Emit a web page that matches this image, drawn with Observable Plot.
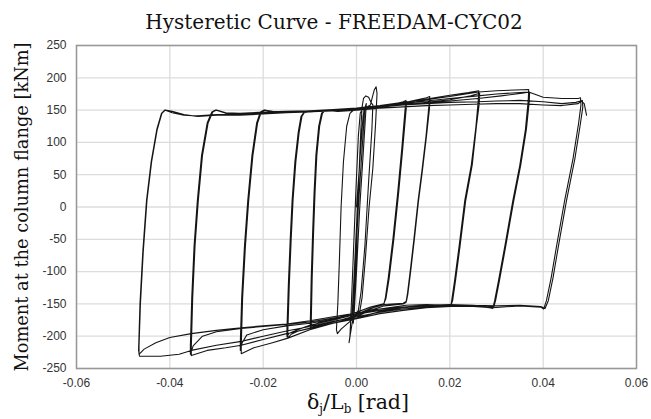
<!DOCTYPE html>
<html><head><meta charset="utf-8">
<script src="https://cdn.jsdelivr.net/npm/d3@7"></script>
<script src="https://cdn.jsdelivr.net/npm/@observablehq/plot@0.6"></script>
<style>
body{margin:0;background:#fff}
#chart{position:relative;width:651px;height:419px;overflow:hidden}
</style>
</head><body><div id="chart"></div>
<script>
const titleText = "Hysteretic Curve - FREEDAM-CYC02";
const yLabel = "Moment at the column flange [kNm]";
const xTicks = [-0.06, -0.04, -0.02, 0, 0.02, 0.04, 0.06];
const yTicks = [-250, -200, -150, -100, -50, 0, 50, 100, 150, 200, 250];

// [rotation δj/Lb (rad), moment (kNm)], in loading order
const loop0 = [[0,0],[0.0008,80],[0.0014,140],[0.0018,155],[0.0012,90],[0.0004,0],[-0.0003,-100],[-0.0008,-160],[-0.0010,-175],[-0.0004,-90],[0.0002,0],[0.0009,100],[0.0016,150],[0.0021,160],[0.0015,90],[0.0007,0],[0,-100],[-0.0005,-165],[-0.0007,-180],[-0.0001,-90],[0.0003,0]];
const loop1 = [[0.0007,80],[0.0010,130],[0.0012,155],[0.0015,168],[0.0020,172],[0.0026,170],[0.0031,162],[0.0035,158],
  [0.0033,120],[0.0026,40],[0.0018,-60],[0.0010,-130],[0.0004,-160],[-0.0003,-168],[-0.0009,-178],[-0.0012,-192],[-0.0016,-210],[-0.0014,-200],
  [-0.0011,-150],[-0.0006,-60],[-0.0001,30],[0.0004,110],[0.0008,145],[0.0013,152],[0.0022,155],[0.0030,158]];
const loop2 = [[0.0034,170],[0.0038,181],[0.0042,186],[0.0044,176],
  [0.0041,130],[0.0035,60],[0.0027,0],[0.0019,-80],[0.0012,-140],[0.0007,-162],[0.0002,-166],[-0.0010,-175],[-0.0022,-182],[-0.0033,-189],[-0.0041,-196],[-0.0043,-190],
  [-0.0040,-150],[-0.0037,-90],[-0.0033,0],[-0.0028,70],[-0.0021,125],[-0.0014,145],[-0.0008,149]];
const loop3 = [[0,151],[0.0030,153],[0.0060,156],[0.0085,160],[0.0100,163],[0.0106,165],
  [0.0104,150],[0.0097,90],[0.0088,20],[0.0078,-50],[0.0068,-110],[0.0062,-140],[0.0059,-150],[0.0052,-151],
  [0.0030,-158],[0,-168],[-0.0040,-176],[-0.0070,-181],[-0.0092,-185],[-0.0097,-188],
  [-0.0097,-180],[-0.0095,-110],[-0.0092,-40],[-0.0089,20],[-0.0085,80],[-0.0079,125],[-0.0073,145],[-0.0067,150],
  [-0.0040,148],[0,150],[0.0040,152],[0.0080,157],[0.0100,161],[0.0108,163],
  [0.0106,148],[0.0099,90],[0.0090,20],[0.0080,-50],[0.0070,-110],[0.0063,-142],[0.0058,-150],
  [0.0030,-155],[0,-163],[-0.0040,-171],[-0.0075,-178],[-0.0095,-183],[-0.0099,-186],
  [-0.0099,-178],[-0.0097,-110],[-0.0094,-40],[-0.0091,20],[-0.0087,80],[-0.0081,125],[-0.0075,145],[-0.0069,150]];
const loop4 = [[-0.004,149],[0,152],[0.005,156],[0.0106,162],[0.0130,166],[0.0150,169],[0.0157,171],
  [0.0155,155],[0.0149,110],[0.0140,55],[0.0132,10],[0.0123,-50],[0.0115,-100],[0.0109,-135],[0.0106,-148],[0.0100,-150],
  [0.0060,-153],[0.0030,-160],[0,-170],[-0.004,-178],[-0.0097,-187],[-0.0125,-192],[-0.0140,-197],[-0.0147,-203],
  [-0.0147,-190],[-0.0144,-120],[-0.0140,-50],[-0.0136,10],[-0.0130,70],[-0.0123,115],[-0.0117,140],[-0.0111,147],
  [-0.008,148],[-0.004,149],[0,151],[0.005,154],[0.0106,159],[0.0140,164],[0.0158,168],
  [0.0156,150],[0.0150,110],[0.0141,55],[0.0133,10],[0.0124,-50],[0.0116,-100],[0.0110,-135],[0.0107,-146],[0.0100,-149],
  [0.0060,-151],[0.0030,-157],[0,-166],[-0.005,-175],[-0.0100,-183],[-0.0130,-191],[-0.0145,-196],[-0.0149,-201],
  [-0.0149,-188],[-0.0146,-120],[-0.0142,-50],[-0.0138,10],[-0.0132,70],[-0.0125,115],[-0.0119,140],[-0.0113,146]];
const loop5 = [[-0.008,149],[-0.004,150],[0,153],[0.005,157],[0.010,161],[0.0157,168],[0.020,173],[0.024,177],[0.0262,180],
  [0.0261,165],[0.0256,125],[0.0246,65],[0.0232,10],[0.0220,-60],[0.0210,-115],[0.0204,-145],[0.0202,-153],[0.0195,-154],
  [0.015,-152],[0.0106,-155],[0.005,-162],[0,-172],[-0.005,-180],[-0.010,-190],[-0.0147,-203],[-0.018,-210],[-0.022,-218],[-0.0247,-227],
  [-0.0247,-215],[-0.0244,-140],[-0.0238,-60],[-0.0231,10],[-0.0222,80],[-0.0212,130],[-0.0204,147],[-0.0196,150],
  [-0.0180,147],[-0.015,146],[-0.010,148],[-0.005,150],[0,152],[0.005,155],[0.010,158],[0.015,162],[0.020,166],[0.0245,172],[0.0264,176],
  [0.0263,160],[0.0257,125],[0.0248,65],[0.0234,10],[0.0222,-60],[0.0212,-115],[0.0206,-145],[0.0203,-151],[0.0195,-152],
  [0.015,-151],[0.0106,-152],[0.005,-158],[0,-166],[-0.005,-174],[-0.010,-180],[-0.015,-184],[-0.020,-190],[-0.0235,-198],[-0.0245,-210],[-0.0249,-222],
  [-0.0249,-210],[-0.0246,-140],[-0.0240,-60],[-0.0233,10],[-0.0224,80],[-0.0214,130],[-0.0206,147],[-0.0198,150]];
const loop6 = [[-0.018,148],[-0.015,147],[-0.010,149],[-0.005,151],[0,153],[0.005,157],[0.010,162],[0.015,166],[0.020,171],[0.0262,178],[0.030,180],[0.034,181],[0.0369,182],
  [0.0368,165],[0.0362,120],[0.0350,65],[0.0335,10],[0.0318,-60],[0.0304,-115],[0.0296,-145],[0.0292,-157],[0.0285,-156],
  [0.025,-153],[0.0202,-154],[0.015,-156],[0.010,-160],[0.005,-165],[0,-173],[-0.005,-180],[-0.010,-188],[-0.015,-196],[-0.020,-205],[-0.0247,-214],[-0.028,-218],[-0.032,-222],[-0.0354,-230],
  [-0.0354,-218],[-0.0351,-140],[-0.0346,-60],[-0.0339,10],[-0.0330,80],[-0.0318,130],[-0.0308,147],[-0.0300,150],
  [-0.028,146],[-0.025,145],[-0.020,147],[-0.015,148],[-0.010,149],[-0.005,151],[0,153],[0.005,155],[0.010,158],[0.015,161],[0.020,164],[0.026,168],[0.031,172],[0.0355,176],[0.0371,178],
  [0.0370,162],[0.0364,120],[0.0352,65],[0.0337,10],[0.0320,-60],[0.0306,-115],[0.0298,-145],[0.0294,-155],[0.0285,-154],
  [0.025,-152],[0.020,-152],[0.015,-153],[0.010,-156],[0.005,-160],[0,-166],[-0.005,-172],[-0.010,-178],[-0.015,-182],[-0.020,-185],[-0.0247,-188],[-0.030,-193],[-0.033,-200],[-0.0350,-215],[-0.0356,-228],
  [-0.0356,-215],[-0.0353,-140],[-0.0348,-60],[-0.0341,10],[-0.0332,80],[-0.0320,130],[-0.0310,147],[-0.0302,150]];
const loop7 = [[-0.028,145],[-0.025,144],[-0.020,146],[-0.015,147],[-0.010,149],[-0.005,151],[0,153],[0.005,156],[0.010,160],[0.015,164],[0.020,168],[0.026,172],[0.030,175],[0.0369,178],[0.040,170],[0.044,168],[0.0475,168],[0.0480,169],
  [0.0481,158],[0.0476,130],[0.0464,75],[0.0446,10],[0.0430,-55],[0.0417,-110],[0.0407,-145],[0.0401,-158],[0.0395,-155],
  [0.035,-153],[0.0292,-156],[0.025,-154],[0.020,-153],[0.015,-155],[0.010,-158],[0.005,-163],[0,-170],[-0.005,-177],[-0.010,-185],[-0.015,-192],[-0.020,-200],[-0.0247,-208],[-0.030,-214],[-0.0354,-222],[-0.038,-228],[-0.042,-231],[-0.0465,-231],
  [-0.0467,-222],[-0.0464,-150],[-0.0458,-70],[-0.0450,10],[-0.0440,70],[-0.0428,120],[-0.0418,145],[-0.0411,150],
  [-0.0395,146],[-0.037,142],[-0.034,141],[-0.030,143],[-0.025,143],[-0.020,145],[-0.015,147],[-0.010,148],[-0.005,150],[0,152],[0.005,155],[0.010,158],[0.015,160],[0.020,162],[0.026,163],[0.030,164],[0.035,165],[0.040,163],[0.044,160],[0.047,162],[0.0484,165],
  [0.0485,155],[0.0480,130],[0.0468,75],[0.0450,10],[0.0434,-55],[0.0421,-110],[0.0411,-145],[0.0404,-157],[0.0395,-154],
  [0.035,-152],[0.030,-153],[0.025,-152],[0.020,-151],[0.015,-152],[0.010,-155],[0.005,-158],[0,-164],[-0.005,-170],[-0.010,-176],[-0.015,-181],[-0.020,-184],[-0.0247,-187],[-0.030,-191],[-0.0354,-196],[-0.040,-202],[-0.043,-210],[-0.0455,-220],[-0.0466,-228],
  [-0.0466,-215],[-0.0463,-150],[-0.0457,-70],[-0.0449,10],[-0.0439,70],[-0.0427,120],[-0.0417,145],[-0.0410,150],
  [-0.0395,148],[-0.037,143],[-0.034,140],[-0.030,142],[-0.025,142],[-0.020,144],[-0.015,146],[-0.010,147],[-0.005,149],[0,151],[0.005,153],[0.010,155],[0.015,157],[0.020,158],[0.025,159],[0.030,160],[0.035,160],[0.040,158],[0.044,157],[0.0475,160],[0.0482,164],[0.0488,160],[0.0493,142]];

const loops = [loop0, loop1, loop2, loop3, loop4, loop5, loop6, loop7];
const rows = loops.flat().map(([rotation, moment]) => ({rotation, moment}));

const plot = Plot.plot({
  width: 651, height: 419,
  marginLeft: 76, marginRight: 15, marginTop: 45, marginBottom: 51,
  style: {fontFamily: "'Liberation Sans', Arial, sans-serif", fontSize: "12px", color: "#333", background: "#fff", overflow: "visible"},
  x: {domain: [-0.06, 0.06], ticks: xTicks, tickFormat: d => d.toFixed(2), tickSize: 0, tickPadding: 10, label: null},
  y: {domain: [-250, 250], ticks: yTicks, tickFormat: d => String(d), tickSize: 0, tickPadding: 10, label: null},
  marks: [
    Plot.gridX(xTicks, {stroke: "#dcdcdc", strokeOpacity: 1, strokeWidth: 1.3}),
    Plot.gridY(yTicks, {stroke: "#dcdcdc", strokeOpacity: 1, strokeWidth: 1.3}),
    Plot.line(rows, {x: "rotation", y: "moment", stroke: "#151515", strokeWidth: 1.1}),
    Plot.frame({stroke: "#999", strokeWidth: 1.5})
  ]
});
document.getElementById("chart").appendChild(plot);

const svg = d3.select(plot);
const serif = "'DejaVu Serif', 'Liberation Serif', serif";
svg.append("text").attr("x", 334).attr("y", 29).attr("text-anchor", "middle")
  .attr("font-family", serif).attr("font-size", 20).attr("fill", "#111").text(titleText);
svg.append("text").attr("transform", "translate(28,207) rotate(-90)").attr("text-anchor", "middle")
  .attr("font-family", serif).attr("font-size", 17.8).attr("fill", "#111").text(yLabel);
const xl = svg.append("text").attr("x", 358).attr("y", 409).attr("text-anchor", "middle")
  .attr("font-family", serif).attr("font-size", 20.5).attr("fill", "#111");
xl.append("tspan").text("δ");
xl.append("tspan").attr("font-size", 12).attr("dy", 4).text("j");
xl.append("tspan").attr("dy", -4).text("/L");
xl.append("tspan").attr("font-size", 12).attr("dy", 4).text("b");
xl.append("tspan").attr("dy", -4).text(" [rad]");
</script>
</body></html>
